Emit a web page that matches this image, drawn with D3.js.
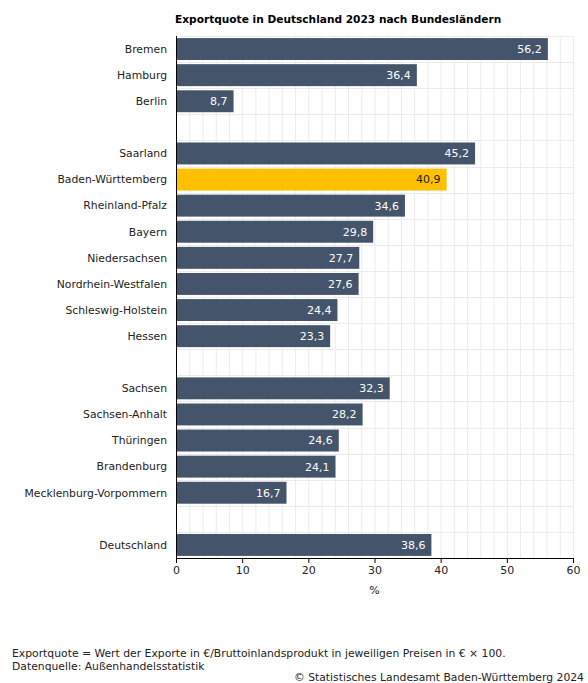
<!DOCTYPE html>
<html><head><meta charset="utf-8">
<script src="https://cdn.jsdelivr.net/npm/d3@7"></script>
<style>body{margin:0;background:#fff}svg{display:block}text{font-family:"DejaVu Sans",Verdana,sans-serif}</style>
</head><body>
<script>
const categories = ["Bremen","Hamburg","Berlin","","Saarland","Baden-Württemberg","Rheinland-Pfalz","Bayern","Niedersachsen","Nordrhein-Westfalen","Schleswig-Holstein","Hessen"," ","Sachsen","Sachsen-Anhalt","Thüringen","Brandenburg","Mecklenburg-Vorpommern","  ","Deutschland"];
const values = [56.2,36.4,8.7,null,45.2,40.9,34.6,29.8,27.7,27.6,24.4,23.3,null,32.3,28.2,24.6,24.1,16.7,null,38.6];
const highlight = "Baden-Württemberg";
const xTicks = [0,10,20,30,40,50,60];
const title = "Exportquote in Deutschland 2023 nach Bundesländern";
const notes = ["Exportquote = Wert der Exporte in €/Bruttoinlandsprodukt in jeweiligen Preisen in € × 100.","Datenquelle: Außenhandelsstatistik"];
const credit = "© Statistisches Landesamt Baden-Württemberg 2024";

const W=588,H=683, L=176, R=573, T=36, B=558;
const svg=d3.select("body").append("svg").attr("width",W).attr("height",H);
const x=d3.scaleLinear().domain([0,60]).range([L,R]);
const y=d3.scaleBand().domain(categories).range([T,B]).paddingInner(0.16).paddingOuter(0.08);
const step=y.step();
const g=svg.append("g");
// grid
g.selectAll(".vg").data(d3.range(2,61,2)).join("line").attr("x1",d=>x(d)+0.5).attr("x2",d=>x(d)+0.5)
 .attr("y1",T).attr("y2",B).attr("stroke","#ebebeb").attr("stroke-width",1);
g.selectAll(".hg").data(d3.range(0,categories.length)).join("line").attr("x1",L).attr("x2",R)
 .attr("y1",(d,i)=>Math.round(T+i*step)+0.5).attr("y2",(d,i)=>Math.round(T+i*step)+0.5).attr("stroke","#ebebeb");
// bars
const data=categories.map((c,i)=>({c,v:values[i]})).filter(d=>d.v!=null);
g.selectAll("rect").data(data).join("rect").attr("x",x(0)).attr("y",d=>y(d.c)).attr("height",y.bandwidth())
 .attr("width",d=>x(d.v)-x(0)).attr("fill",d=>d.c===highlight?"#ffc000":"#44546a");
g.selectAll(".val").data(data).join("text").attr("x",d=>x(d.v)-6).attr("y",d=>y(d.c)+y.bandwidth()/2)
 .attr("dy","0.35em").attr("text-anchor","end").attr("font-size","11px")
 .attr("fill",d=>d.c===highlight?"#1a1a1a":"#fff").text(d=>d3.format(".1f")(d.v).replace(".",","));
// y labels
g.selectAll(".lab").data(data).join("text").attr("x",L-9).attr("y",d=>y(d.c)+y.bandwidth()/2)
 .attr("dy","0.35em").attr("text-anchor","end").attr("font-size","10.8px").attr("fill","#222").text(d=>d.c);
// axes
const xa=svg.append("g").attr("transform",`translate(0,${B})`)
 .call(d3.axisBottom(x).tickValues(xTicks).tickSize(5).tickSizeOuter(0).tickFormat(d3.format("d")));
xa.select(".domain").attr("stroke","#000");
xa.selectAll(".tick line").attr("stroke","#000");
xa.selectAll("text").attr("font-size","11px").attr("fill","#222").attr("font-family","DejaVu Sans");
svg.append("line").attr("x1",L+0.5).attr("x2",L+0.5).attr("y1",T).attr("y2",B).attr("stroke","#000");
svg.append("text").attr("x",(L+R)/2).attr("y",594).attr("text-anchor","middle").attr("font-size","11px").attr("fill","#222").text("%");
svg.append("text").attr("x",175).attr("y",23).attr("font-size","10.6px").attr("font-weight","bold").attr("fill","#000").text(title);
notes.forEach((n,i)=>svg.append("text").attr("x",12).attr("y",657+i*13).attr("font-size","10.8px").attr("fill","#222").text(n));
svg.append("text").attr("x",584).attr("y",681).attr("text-anchor","end").attr("font-size","10.8px").attr("fill","#222").text(credit);
</script>
</body></html>
